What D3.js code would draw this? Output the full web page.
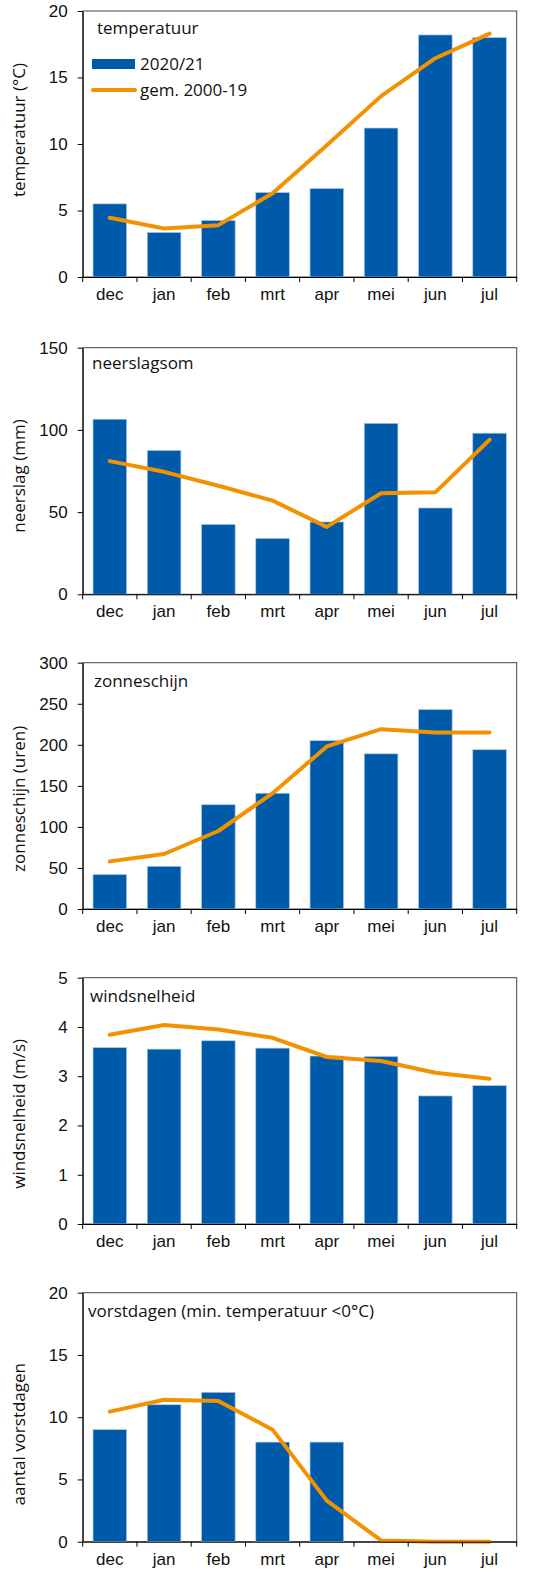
<!DOCTYPE html>
<html>
<head>
<meta charset="utf-8">
<script src="https://cdn.jsdelivr.net/npm/d3@7"></script>
<style>
body { margin: 0; background: #fff; }
svg { display: block; font-family: "Open Sans", "Noto Sans", sans-serif; }
</style>
</head>
<body>
<script>
var months = ["dec", "jan", "feb", "mrt", "apr", "mei", "jun", "jul"];

// 2020/21 values
var tempBars = [5.5, 3.35, 4.25, 6.35, 6.65, 11.2, 18.2, 18.0];
var rainBars = [106.5, 87.5, 42.5, 34, 44, 104, 52.5, 98];
var sunBars = [42, 52, 127, 141, 205, 189, 243, 194];
var windBars = [3.58, 3.55, 3.72, 3.57, 3.41, 3.40, 2.60, 2.81];
var frostBars = [9, 11, 12, 8, 8, 0, 0, 0];

// gemiddelde 2000-19
var tempAvg = [4.45, 3.65, 3.9, 6.3, 9.9, 13.6, 16.45, 18.3];
var rainAvg = [81, 74.5, 66, 57, 41, 61.5, 62, 94];
var sunAvg = [58, 67, 95, 141, 198, 219, 215, 215];
var windAvg = [3.84, 4.04, 3.95, 3.78, 3.39, 3.31, 3.07, 2.95];
var frostAvg = [10.45, 11.4, 11.3, 9.0, 3.3, 0.1, 0, 0];

var titles = ["temperatuur", "neerslagsom", "zonneschijn", "windsnelheid", "vorstdagen (min. temperatuur <0°C)"];
var yLabels = ["temperatuur (°C)", "neerslag (mm)", "zonneschijn (uren)", "windsnelheid (m/s)", "aantal vorstdagen"];
var yMax = [20, 150, 300, 5, 20];
var yStep = [5, 50, 50, 1, 5];
var legendLabels = ["2020/21", "gem. 2000-19"];

var barSeries = [tempBars, rainBars, sunBars, windBars, frostBars];
var avgSeries = [tempAvg, rainAvg, sunAvg, windAvg, frostAvg];

// layout per panel: plot top, plot bottom, shift of y-label, title x / offset
var layout = [
  {top: 11, bottom: 277, shift: -14, tx: 97, ty: 23},
  {top: 347.7, bottom: 594.3, shift: 5, tx: 92, ty: 21},
  {top: 662.7, bottom: 909, shift: 13, tx: 94, ty: 24},
  {top: 977.7, bottom: 1224, shift: 13, tx: 90, ty: 24},
  {top: 1292.7, bottom: 1541.7, shift: 17, tx: 88, ty: 24}
];

var width = 545, height = 1571;
var left = 82.7, right = 516.7;
var barColor = "#005aaa", lineColor = "#f39200";
var fs = 17;

var svg = d3.select("body").append("svg")
  .attr("width", width).attr("height", height);

var x = d3.scaleBand().domain(months).range([left, right]).padding(0);
var barW = x.bandwidth() * 0.62;

layout.forEach(function(L, i) {
  var y = d3.scaleLinear().domain([0, yMax[i]]).range([L.bottom, L.top]);
  var g = svg.append("g");

  // frame
  g.append("rect")
    .attr("x", left).attr("y", L.top)
    .attr("width", right - left).attr("height", L.bottom - L.top)
    .attr("fill", "none").attr("stroke", "#444").attr("stroke-width", 1);

  // bars
  g.selectAll("rect.bar")
    .data(barSeries[i])
    .enter().append("rect")
    .attr("class", "bar")
    .attr("x", function(d, j) { return x(months[j]) + (x.bandwidth() - barW) / 2; })
    .attr("y", function(d) { return y(d); })
    .attr("width", barW)
    .attr("height", function(d) { return L.bottom - y(d); })
    .attr("fill", barColor)
    .attr("stroke", function(d) { return d > 0 ? "#a9c9ea" : "none"; })
    .attr("stroke-width", 0.7);

  // line
  var line = d3.line()
    .x(function(d, j) { return x(months[j]) + x.bandwidth() / 2; })
    .y(function(d) { return y(d); });
  g.append("path")
    .datum(avgSeries[i])
    .attr("d", line)
    .attr("fill", "none")
    .attr("stroke", lineColor)
    .attr("stroke-width", 4)
    .attr("stroke-linejoin", "round")
    .attr("stroke-linecap", "round");

  // y axis
  var yAxis = d3.axisLeft(y)
    .tickValues(d3.range(0, yMax[i] + yStep[i] / 2, yStep[i]))
    .tickSize(5).tickSizeOuter(0).tickPadding(10)
    .tickFormat(d3.format("d"));
  var ya = g.append("g").attr("transform", "translate(" + left + ",0)").call(yAxis);
  ya.select(".domain").attr("stroke", "#000");
  ya.selectAll("text").attr("font-size", fs).attr("fill", "#111").attr("font-family", null);

  // x axis: labels at centers, ticks at band edges
  var xAxis = d3.axisBottom(x).tickSize(0).tickPadding(11);
  var xa = g.append("g").attr("transform", "translate(0," + L.bottom + ")").call(xAxis);
  xa.select(".domain").attr("stroke", "#000");
  xa.selectAll("text").attr("font-size", fs).attr("fill", "#111").attr("font-family", null);
  var edges = months.map(function(m) { return x(m); }).concat([x.range()[1]]);
  xa.selectAll("line.edge")
    .data(edges)
    .enter().append("line")
    .attr("class", "edge")
    .attr("x1", function(d) { return d; }).attr("x2", function(d) { return d; })
    .attr("y1", 0).attr("y2", 5)
    .attr("stroke", "#000");

  // title inside plot
  g.append("text")
    .attr("x", L.tx)
    .attr("y", L.top + L.ty)
    .attr("font-size", fs).attr("fill", "#111")
    .text(titles[i]);

  // y label
  var cy = (L.top + L.bottom) / 2 + L.shift;
  g.append("text")
    .attr("transform", "translate(25," + cy + ") rotate(-90)")
    .attr("text-anchor", "middle")
    .attr("font-size", fs).attr("fill", "#111")
    .text(yLabels[i]);

  // legend in first panel
  if (i === 0) {
    g.append("rect")
      .attr("x", 92).attr("y", 59).attr("width", 43).attr("height", 10)
      .attr("fill", barColor);
    g.append("text").attr("x", 140).attr("y", 70)
      .attr("font-size", fs).attr("fill", "#111").text(legendLabels[0]);
    g.append("line")
      .attr("x1", 93).attr("x2", 135).attr("y1", 90).attr("y2", 90)
      .attr("stroke", lineColor).attr("stroke-width", 4).attr("stroke-linecap", "round");
    g.append("text").attr("x", 140).attr("y", 96)
      .attr("font-size", fs).attr("fill", "#111").text(legendLabels[1]);
  }
});
</script>
</body>
</html>
